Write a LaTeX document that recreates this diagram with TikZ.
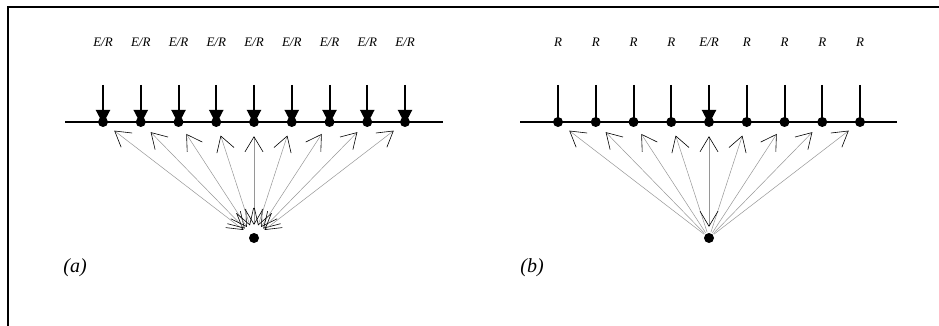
\documentclass[tikz,border=0pt]{standalone}
\usepackage{fontspec}
\setmainfont{Liberation Serif}
\usetikzlibrary{arrows.meta}
\definecolor{raygray}{RGB}{150,150,150}

\tikzset{
  sensor/.style={circle, fill=black, inner sep=0pt, minimum size=10pt},
  lbl/.style={font=\fontsize{13}{15}\selectfont\itshape, inner sep=0pt},
  panel/.style={font=\fontsize{20}{24}\selectfont\itshape, inner sep=0pt},
  stem/.style={line width=2pt},
  emit/.style={stem, -{Triangle[length=14pt,width=14pt]}, shorten >=-2pt},
  ray/.style={raygray, line width=0.5pt, shorten >=9pt},
  rayhead/.tip={Straight Barb[length=15pt,width=18pt,color=black,line width=0.6pt]}
}

\begin{document}
\begin{tikzpicture}[x=1pt, y=-1pt]
  \useasboundingbox (0,0) rectangle (939,326);
  % frame
  \draw[line width=1.6pt] (8,326) -- (8,7) -- (939,7);

  % (a) every sensor emits and receives
  \coordinate (aL) at (65,122);
  \coordinate (aR) at (443,122);
  \draw[line width=1.3pt] (aL) -- (aR);
  \node[sensor] (sa) at (254,238) {};
  \foreach \i in {1,...,9} {
    \node[sensor] (a\i) at ({103+37.75*(\i-1)},122) {};
    \coordinate (at\i) at ({103+37.75*(\i-1)},85);
    \node[lbl] (la\i) at ({103+37.75*(\i-1)},42) {E/R};
    \draw[emit] (at\i) -- (a\i.center);
    \draw[ray, {rayhead}-{rayhead}, shorten <=8pt] (sa) -- (a\i);
  }
  \node[panel] (pa) at (75,268) {(a)};

  % (b) only the middle sensor emits
  \coordinate (bL) at (520,122);
  \coordinate (bR) at (897,122);
  \draw[line width=1.3pt] (bL) -- (bR);
  \node[sensor] (sb) at (709,238) {};
  \foreach \i in {1,2,3,4,6,7,8,9} {
    \node[sensor] (b\i) at ({558+37.75*(\i-1)},122) {};
    \coordinate (bt\i) at ({558+37.75*(\i-1)},85);
    \node[lbl] (lb\i) at ({558+37.75*(\i-1)},42) {R};
    \draw[stem] (bt\i) -- (b\i.center);
    \draw[ray, -{rayhead}, shorten <=1pt] (sb) -- (b\i);
  }
  \node[sensor] (b5) at (709,122) {};
  \coordinate (bt5) at (709,85);
  \node[lbl] (lb5) at (709,42) {E/R};
  \draw[emit] (bt5) -- (b5.center);
  \draw[ray, {rayhead}-{rayhead}, shorten <=6pt] (sb) -- (b5);
  \node[panel] (pb) at (532,268) {(b)};
\end{tikzpicture}
\end{document}
